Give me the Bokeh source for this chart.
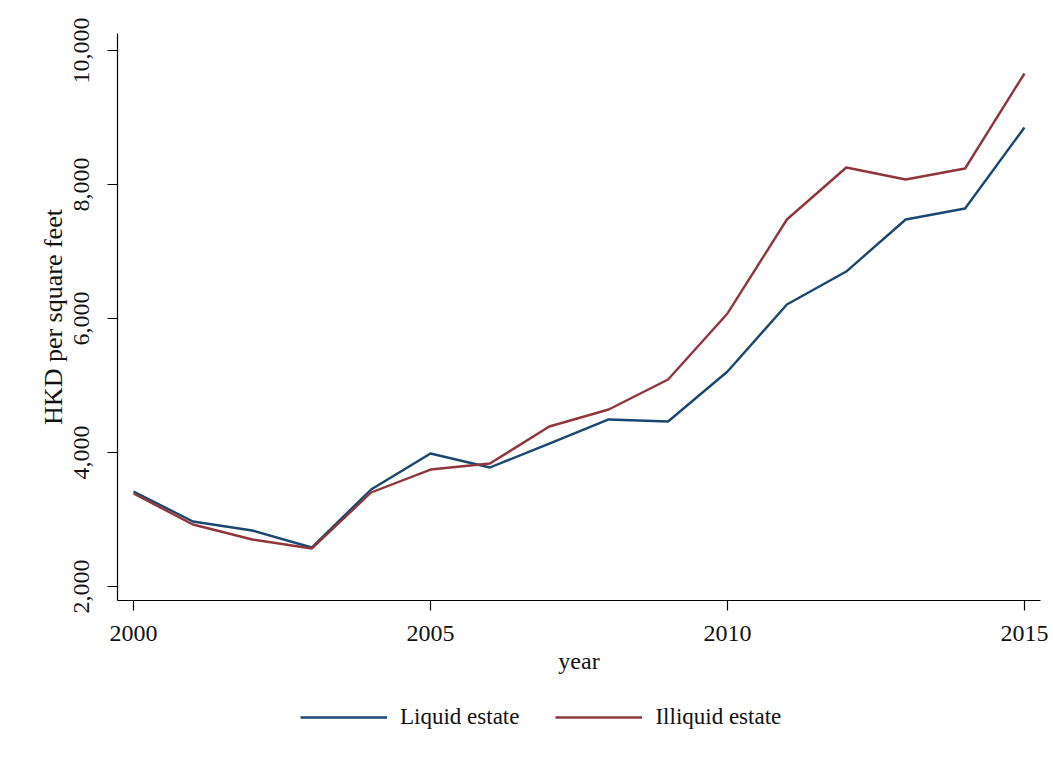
from bokeh.plotting import figure
from bokeh.layouts import column
from bokeh.models import Range1d, FixedTicker, NumeralTickFormatter, Legend, LegendItem
from bokeh.embed import file_html
from bokeh.resources import INLINE

years = [2000, 2001, 2002, 2003, 2004, 2005, 2006, 2007, 2008, 2009, 2010, 2011, 2012, 2013, 2014, 2015]
liquid = [3418, 2970, 2836, 2582, 3448, 3985, 3776, 4134, 4493, 4463, 5209, 6209, 6701, 7478, 7642, 8851]
illiquid = [3388, 2925, 2701, 2567, 3403, 3746, 3836, 4388, 4642, 5090, 6075, 7478, 8254, 8075, 8239, 9657]
x_ticks = [2000, 2005, 2010, 2015]
y_ticks = [2000, 4000, 6000, 8000, 10000]
series_names = ["Liquid estate", "Illiquid estate"]
series_colors = ["#1a476f", "#90353b"]

FONT = "Liberation Serif"

p = figure(frame_width=923, frame_height=567, output_backend="svg", toolbar_location=None,
           x_range=Range1d(1999.73, 2015.27), y_range=Range1d(1791, 10254),
           min_border_left=117, min_border_top=33, min_border_right=10, min_border_bottom=90)
p.outline_line_color = None
p.xgrid.visible = False
p.ygrid.visible = False
p.background_fill_color = "white"
p.border_fill_color = "white"

p.line(years, liquid, line_color=series_colors[0], line_width=2.4)
p.line(years, illiquid, line_color=series_colors[1], line_width=2.4)

for ax in (p.xaxis[0], p.yaxis[0]):
    ax.axis_line_color = "black"
    ax.axis_line_width = 1.2
    ax.major_tick_line_color = "black"
    ax.major_tick_line_width = 1.2
    ax.major_tick_out = 10
    ax.major_tick_in = 0
    ax.minor_tick_line_color = None
    ax.major_label_text_font = FONT
    ax.major_label_text_font_size = "24px"
    ax.major_label_text_color = "#111111"
    ax.axis_label_text_font = FONT
    ax.axis_label_text_font_size = "24px"
    ax.axis_label_text_font_style = "normal"
    ax.axis_label_text_color = "#111111"

p.yaxis.axis_label_text_font_size = "26px"
p.xaxis.ticker = FixedTicker(ticks=x_ticks)
p.yaxis.ticker = FixedTicker(ticks=y_ticks)
p.yaxis.formatter = NumeralTickFormatter(format="0,0")
p.yaxis.major_label_orientation = "vertical"
p.xaxis.axis_label = "year"
p.yaxis.axis_label = "HKD per square feet"
p.xaxis.major_label_standoff = 15
p.xaxis.axis_label_standoff = 4
p.yaxis.major_label_standoff = 18
p.yaxis.axis_label_standoff = 4

# legend strip below the plot (its sample lines are out of view; only the legend shows)
q = figure(width=1050, height=60, output_backend="svg", toolbar_location=None,
           x_range=Range1d(0, 1), y_range=Range1d(0, 1),
           x_axis_type=None, y_axis_type=None,
           min_border_left=0, min_border_right=0, min_border_top=0, min_border_bottom=0)
q.outline_line_color = None
q.xgrid.visible = False
q.ygrid.visible = False
q.background_fill_color = "white"
q.border_fill_color = "white"
r1 = q.line(years, liquid, line_color=series_colors[0], line_width=2.4)
r2 = q.line(years, illiquid, line_color=series_colors[1], line_width=2.4)

legend = Legend(items=[LegendItem(label=series_names[0], renderers=[r1]),
                       LegendItem(label=series_names[1], renderers=[r2])],
                orientation="horizontal", location=(183, 20),
                glyph_width=87, glyph_height=20, label_standoff=13, spacing=36,
                label_text_font=FONT, label_text_font_size="23px", label_text_color="#111111",
                border_line_color=None, background_fill_alpha=0, padding=4, margin=0)
q.add_layout(legend, "center")

open("out.html", "w").write(file_html(column(p, q, spacing=0), INLINE))
